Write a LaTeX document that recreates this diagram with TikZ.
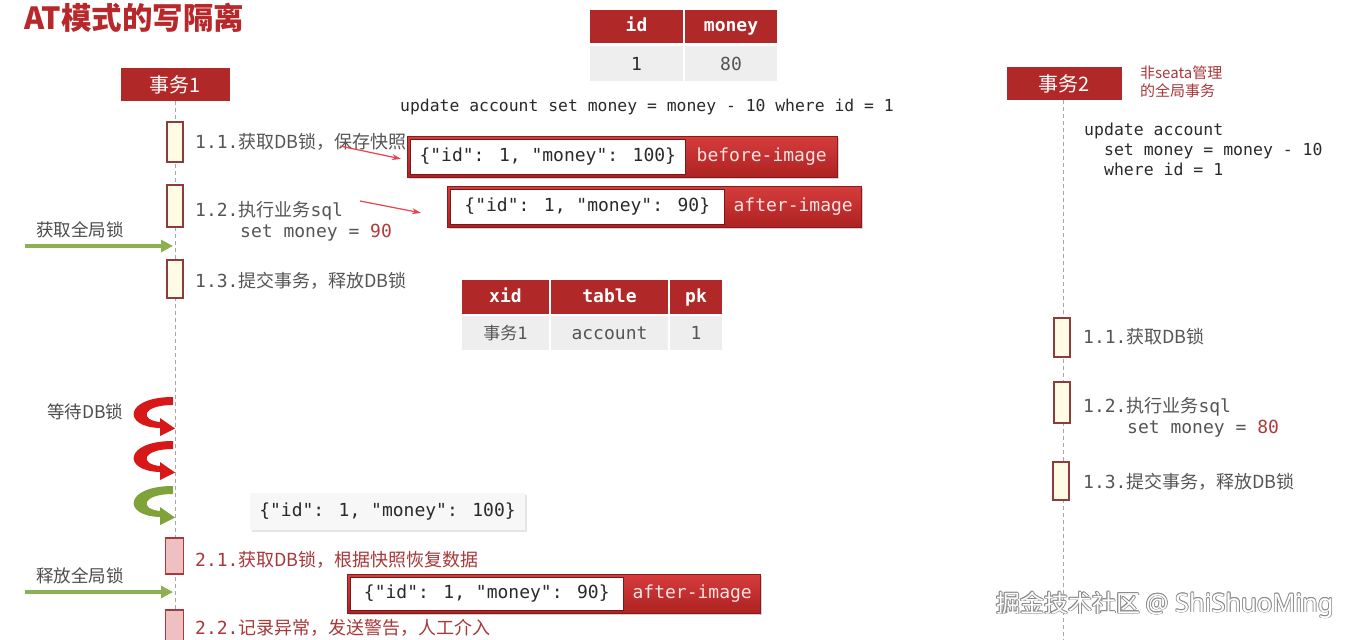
\documentclass[tikz,border=0pt]{standalone}
\usepackage{fontspec}
\setmainfont{Noto Sans CJK SC}
\newfontfamily\cjk{Noto Sans CJK SC}
\newfontfamily\mono{DejaVu Sans Mono}
\newfontfamily\lat{Noto Sans}
\usetikzlibrary{calc,shadows,arrows.meta}
\definecolor{hdrred}{HTML}{B02828}
\definecolor{titlered}{HTML}{B8282B}
\definecolor{imgtop}{HTML}{D63C3C}
\definecolor{imgbot}{HTML}{AC2222}
\definecolor{labgray}{HTML}{555555}
\definecolor{labred}{HTML}{A8383A}
\definecolor{cream}{HTML}{FFFBE5}
\definecolor{actb}{HTML}{8E3B3B}
\definecolor{pinkfill}{HTML}{EFC0C2}
\definecolor{rowgray}{HTML}{EEEEEE}
\definecolor{lockgreen}{HTML}{8DB050}
\definecolor{curlgreen}{HTML}{7FA33A}
\definecolor{curlred}{HTML}{D81818}
\definecolor{arrowred}{HTML}{E8424F}
\definecolor{pinkw}{HTML}{FBE3E3}
\definecolor{codecol}{HTML}{2A2A2A}
\definecolor{valred}{HTML}{B03A3A}
\newcommand\msz{\fontsize{18}{22}\selectfont}
\newcommand\csz{\fontsize{18}{22}\selectfont}
\tikzset{
  txt/.style={inner sep=0pt, anchor=west},
  hdr/.style={fill=hdrred, text=white, inner sep=0pt, font=\cjk\fontsize{20}{22}\selectfont},
  lifeline/.style={draw=black!35, line width=1pt, dash pattern=on 4pt off 3pt},
  act/.style={draw=actb, fill=cream, line width=1.2pt, minimum width=16pt, inner sep=0pt},
  actp/.style={draw=labred, fill=pinkfill, line width=1.2pt, minimum width=18pt, inner sep=0pt},
  thdr/.style={fill=hdrred, text=white, inner sep=0pt, text height=13pt, text depth=3pt, font=\mono\bfseries\fontsize{18}{20}\selectfont},
  tcell/.style={fill=rowgray, text=labgray, inner sep=0pt, font=\mono\fontsize{18}{20}\selectfont},
  imgbox/.style={draw=imgbot!80!black, line width=0.8pt, top color=imgtop, bottom color=imgbot, inner sep=0pt, anchor=north west,
     drop shadow={opacity=0.35, shadow xshift=2pt, shadow yshift=-2pt}},
  jsonw/.style={fill=white, draw=imgbot!70!black, line width=0.6pt, inner sep=0pt, anchor=west, text=codecol, font=\mono\fontsize{18}{20}\selectfont},
  imglab/.style={inner sep=0pt, text=pinkw, font=\mono\fontsize{18}{20}\selectfont},
  lab/.style={txt, text=labgray},
  labr/.style={txt, text=labred},
  smallarr/.style={draw=arrowred, line width=1.2pt, -{Stealth[length=9pt,width=6pt]}},
  greenarr/.style={draw=lockgreen, line width=4pt, -{Triangle[length=12pt,width=12pt]}},
  side/.style={txt, text=labgray!90!black, font=\cjk\fontsize{17.5}{20}\selectfont},
  wmark/.style={txt, font=\cjk\fontsize{24}{26}\selectfont},
}
\newcommand\mlab[2]{{\mono\msz #1}{\cjk\csz #2}}
\newcommand\wmtext{掘金技术社区 {\lat\fontsize{25.5}{26}\selectfont @ ShiShuoMing}}
\newcommand\curl[3]{%
  \fill[#1, shift={(#2,#3)}] (1,0) .. controls (-48,0) and (-50,30) .. (-12,31)
    -- (-12,39) -- (3,31.5) -- (-12,21) -- (-12,25)
    .. controls (-33,23) and (-30,8) .. (1,8) -- cycle;}
\begin{document}
\begin{tikzpicture}[x=1pt,y=-1pt]
\clip (0,0) rectangle (1358,640);
\fill[white] (0,0) rectangle (1358,640);

% title
\node[txt, text=titlered, font=\cjk\bfseries\fontsize{30.5}{32}\selectfont] (title) at (24,18) {AT模式的写隔离};

% participants
\node[hdr, minimum width=109pt, minimum height=33pt] (t1) at (175.5,84.5) {事务1};
\node[hdr, minimum width=115pt, minimum height=33pt] (t2) at (1064,83.5) {事务2};
\node[txt, text=labred, align=left, font=\cjk\fontsize{15}{18}\selectfont] (t2note) at (1140,82) {非seata管理\\的全局事务};

\coordinate (l1b) at (175,645);
\coordinate (l2b) at (1063,645);
\draw[lifeline] (t1.south -| l1b) -- (l1b);
\draw[lifeline] (t2.south -| l2b) -- (l2b);

% table account
\node[thdr, minimum width=93pt, minimum height=33pt] (hid) at (636.5,26.5) {id};
\node[thdr, minimum width=92pt, minimum height=33pt] (hmoney) at (731,26.5) {money};
\node[tcell, minimum width=93pt, minimum height=35pt, text=codecol] (cid) at (636.5,63.5) {1};
\node[tcell, minimum width=92pt, minimum height=35pt] (cmoney) at (731,63.5) {80};

\node[txt, text=codecol, font=\mono\fontsize{16.4}{20}\selectfont] (upd) at (400,107) {update account set money = money - 10 where id = 1};

% left transaction 1 activations
\node[act, minimum height=40pt] (a11) at (175,142) {};
\node[act, minimum height=42pt] (a12) at (175,206) {};
\node[act, minimum height=38pt] (a13) at (175,279) {};
\node[lab] (l11) at (195,142) {\mlab{1.1.}{获取DB锁，保存快照}};
\node[lab] (l12) at (195,211) {\mlab{1.2.}{执行业务}{\mono\msz sql}};
\node[lab, font=\mono\msz] (l12b) at (240,233) {set money = {\color{valred}90}};
\node[lab] (l13) at (195,281) {\mlab{1.3.}{提交事务，释放DB锁}};

% before / after images
\node[imgbox, minimum width=430pt, minimum height=41pt] (bef) at (407,136) {};
\node[jsonw, minimum width=275pt, minimum height=35pt] (befj) at ([xshift=3pt]bef.west) {\{"id": 1, "money": 100\}};
\node[imglab] (befl) at ($(befj.east)!0.5!(bef.east)$) {before-image};

\node[imgbox, minimum width=414pt, minimum height=41pt] (aft) at (447,186) {};
\node[jsonw, minimum width=274pt, minimum height=35pt] (aftj) at ([xshift=3pt]aft.west) {\{"id": 1, "money": 90\}};
\node[imglab] (aftl) at ($(aftj.east)!0.5!(aft.east)$) {after-image};

\coordinate (s1) at (340,146);
\coordinate (s2) at (360,201);
\draw[smallarr] (s1) -- ($(bef.west)+(-6,2)$);
\draw[smallarr] (s2) -- ($(aft.west)+(-26,6)$);

% global lock table
\node[thdr, minimum width=87pt, minimum height=34pt] (hxid) at (505.5,297) {xid};
\node[thdr, minimum width=117pt, minimum height=34pt] (htable) at (609.5,297) {table};
\node[thdr, minimum width=52pt, minimum height=34pt] (hpk) at (696,297) {pk};
\node[tcell, minimum width=87pt, minimum height=34pt, font=\cjk\fontsize{17}{20}\selectfont] (cxid) at (505.5,333) {事务{\mono 1}};
\node[tcell, minimum width=117pt, minimum height=34pt] (ctable) at (609.5,333) {account};
\node[tcell, minimum width=52pt, minimum height=34pt] (cpk) at (696,333) {1};

% transaction 2
\node[txt, text=codecol, align=left, font=\mono\fontsize{16.5}{20}\selectfont] (code2) at (1084,149) {update account\\\phantom{xx}set money = money - 10\\\phantom{xx}where id = 1};
\node[act, minimum height=39pt] (b11) at (1062,337.5) {};
\node[act, minimum height=41pt] (b12) at (1062,402.5) {};
\node[act, minimum height=38pt] (b13) at (1061,481) {};
\node[lab] (r11) at (1083,337) {\mlab{1.1.}{获取DB锁}};
\node[lab] (r12) at (1083,407) {\mlab{1.2.}{执行业务}{\mono\msz sql}};
\node[lab, font=\mono\msz] (r12b) at (1127,429) {set money = {\color{valred}80}};
\node[lab] (r13) at (1083,482) {\mlab{1.3.}{提交事务，释放DB锁}};

% left side notes & arrows
\node[side] (gl) at (36,230) {获取全局锁};
\coordinate (g1s) at (25,246);
\coordinate (g1e) at (173,246);
\draw[greenarr] (g1s) -- (g1e);
\node[side] (wait) at (47,412) {等待DB锁};
\curl{curlred}{172}{397}
\curl{curlred}{172}{441}
\curl{curlgreen}{172}{486}

\node[fill=black!3, inner sep=0pt, minimum width=275pt, minimum height=37pt, text=codecol,
  font=\mono\fontsize{18}{20}\selectfont, drop shadow={opacity=0.2, shadow xshift=1.5pt, shadow yshift=-2pt}] (rest) at (387.5,511.5) {\{"id": 1, "money": 100\}};

\node[actp, minimum height=36pt] (p21) at (174.5,556) {};
\node[labr] (l21) at (195,560) {\mlab{2.1.}{获取DB锁，根据快照恢复数据}};
\node[side] (rl) at (36,576) {释放全局锁};
\coordinate (g2s) at (25,592);
\coordinate (g2e) at (173,592);
\draw[greenarr] (g2s) -- (g2e);

\node[imgbox, minimum width=413pt, minimum height=39pt] (aft2) at (347,574) {};
\node[jsonw, minimum width=273pt, minimum height=33pt] (aft2j) at ([xshift=3pt]aft2.west) {\{"id": 1, "money": 90\}};
\node[imglab] (aft2l) at ($(aft2j.east)!0.5!(aft2.east)$) {after-image};

\node[actp, minimum height=40pt] (p22) at (174.5,630) {};
\node[labr] (l22) at (195,628) {\mlab{2.2.}{记录异常，发送警告，人工介入}};

% watermark
\foreach \dx/\dy [count=\i] in {-0.8/0,0.8/0,0/-0.8,0/0.8,0.6/0.6,-0.6/-0.6,0.6/-0.6,-0.6/0.6}{
  \node[wmark, text=black!45] (wmo\i) at (996+\dx,605+\dy) {\wmtext};
}
\node[wmark, text=white] (wm) at (996,605) {\wmtext};
\end{tikzpicture}
\end{document}
